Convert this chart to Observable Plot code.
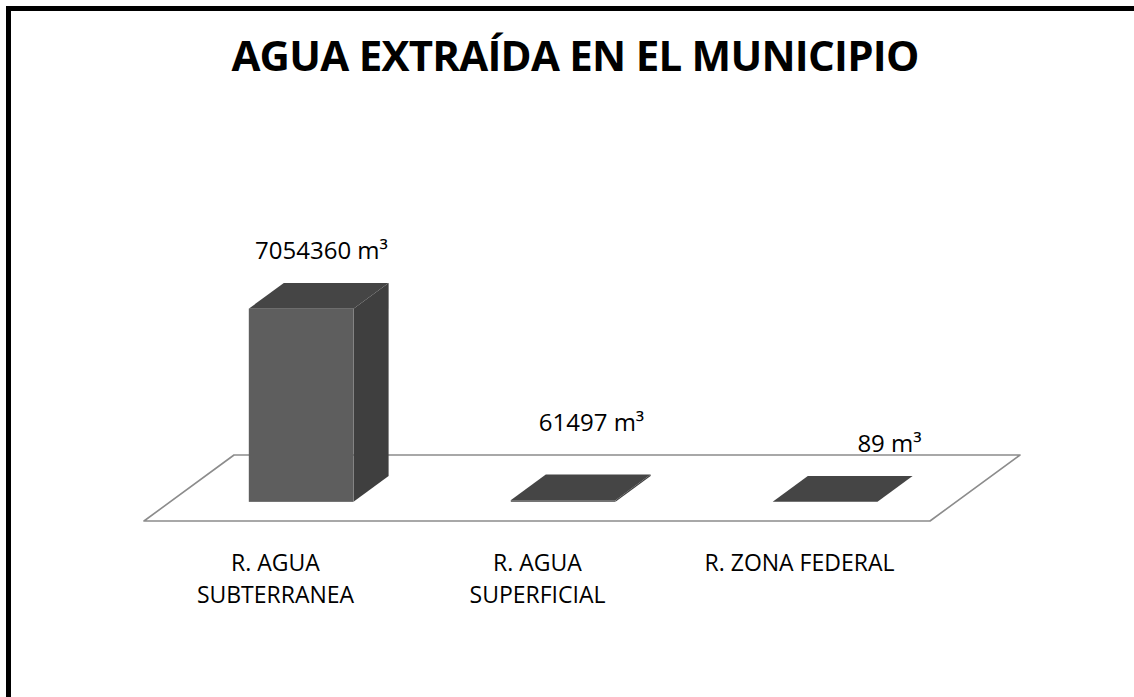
<!DOCTYPE html>
<html>
<head>
<meta charset="utf-8">
<script src="https://cdn.jsdelivr.net/npm/d3@7"></script>
<script src="https://cdn.jsdelivr.net/npm/@observablehq/plot@0.6"></script>
<style>
  html, body { margin: 0; padding: 0; background: #fff; }
  #wrap { position: relative; width: 1134px; height: 697px; overflow: hidden; background: #fff; }
  #frame { position: absolute; left: 6px; top: 6px; width: 2000px; height: 2000px;
           border-left: 5px solid #000; border-top: 5px solid #000; box-sizing: border-box; }
  #title { position: absolute; left: 0; width: 1150px; top: 34px; text-align: center;
           font-family: "Open Sans", sans-serif; font-weight: 700; font-size: 42px; line-height: 42px;
           letter-spacing: -0.75px; color: #000; white-space: nowrap; }
  #chart { position: absolute; left: 0; top: 0; }
</style>
</head>
<body>
<div id="wrap">
  <div id="frame"></div>
  <div id="title">AGUA EXTRAÍDA EN EL MUNICIPIO</div>
  <div id="chart"></div>
</div>
<script>
// ---- data ----
const categories = ["R. AGUA\nSUBTERRANEA", "R. AGUA\nSUPERFICIAL", "R. ZONA FEDERAL"];
const values = [7054360, 61497, 89];
const valueLabels = ["7054360 m³", "61497 m³", "89 m³"];
const yMax = 8000000;

// ---- presentation (pixels) ----
const floorDepth = [90, -66];      // floor depth vector (px)
const barDepthStart = 0.29;        // bar front plane as fraction of floor depth
const barDepthEnd = 0.68;          // bar back plane
const barInsetFrac = 0.30;         // bar inset inside each band
const labelDx = [46, 54, 90];
const labelDy = [-69, -89, -69];

const rows = categories.map((c, i) => ({cat: c, value: values[i], label: valueLabels[i]}));

const xRange = [143, 930];
const bw = (xRange[1] - xRange[0]) / categories.length;
const inset = bw * barInsetFrac;
const f0 = [floorDepth[0] * barDepthStart, floorDepth[1] * barDepthStart];
const fb = [floorDepth[0] * (barDepthEnd - barDepthStart), floorDepth[1] * (barDepthEnd - barDepthStart)];

const NS = "http://www.w3.org/2000/svg";
function poly(pts, fill, stroke, sw) {
  const p = document.createElementNS(NS, "path");
  p.setAttribute("d", "M" + pts.map(q => q.join(",")).join("L") + "Z");
  p.setAttribute("fill", fill);
  if (stroke) { p.setAttribute("stroke", stroke); p.setAttribute("stroke-width", sw); p.setAttribute("stroke-linejoin", "round"); }
  else p.setAttribute("stroke", "none");
  return p;
}

// floor parallelogram, drawn through the scales
function floorMark(index, scales) {
  const {x, y} = scales;
  const dom = x.domain();
  const b = x.bandwidth ? x.bandwidth() : (x.range()[1] - x.range()[0]) / dom.length;
  const xl = x(dom[0]), xr = x(dom[dom.length - 1]) + b, y0 = y(0);
  const g = document.createElementNS(NS, "g");
  g.appendChild(poly([[xl, y0], [xr, y0], [xr + floorDepth[0], y0 + floorDepth[1]], [xl + floorDepth[0], y0 + floorDepth[1]]],
    "#ffffff", "#8c8c8c", 1.6));
  return g;
}

// side and top faces of each bar, drawn through the scales
function barFacesMark(index, scales) {
  const {x, y} = scales;
  const dom = x.domain();
  const b = x.bandwidth ? x.bandwidth() : (x.range()[1] - x.range()[0]) / dom.length;
  const bi = b * barInsetFrac;
  const g = document.createElementNS(NS, "g");
  rows.forEach(r => {
    const xl = x(r.cat) + bi + f0[0];
    const xr = x(r.cat) + b - bi + f0[0];
    const yb = y(0) + f0[1];
    const yt = y(r.value) + f0[1];
    // right side face
    g.appendChild(poly([[xr, yb], [xr, yt], [xr + fb[0], yt + fb[1]], [xr + fb[0], yb + fb[1]]], "#3f3f3f"));
    // top face
    g.appendChild(poly([[xl, yt], [xr, yt], [xr + fb[0], yt + fb[1]], [xl + fb[0], yt + fb[1]]], "#454545"));
  });
  return g;
}

const plot = Plot.plot({
  width: 1134,
  height: 697,
  style: {fontFamily: "'Open Sans', sans-serif", background: "transparent", color: "#000"},
  x: {domain: categories, range: xRange, padding: 0, axis: null},
  y: {domain: [0, yMax], range: [521, 302], axis: null},
  marks: [
    floorMark,
    barFacesMark,
    Plot.barY(rows, {x: "cat", y: "value", fill: "#5e5e5e",
      insetLeft: inset, insetRight: inset, dx: f0[0], dy: f0[1]}),
    Plot.text(rows, {x: "cat", y: 0, text: "cat", fontSize: 23, lineAnchor: "top",
      lineHeight: 1.39, dy: 27, fill: "#000"}),
    ...rows.map((r, i) => Plot.text([r], {x: "cat", y: "value", text: "label", fontSize: 24,
      lineAnchor: "bottom", dx: labelDx[i], dy: labelDy[i], fill: "#000"}))
  ]
});
document.getElementById("chart").appendChild(plot);
</script>
</body>
</html>
